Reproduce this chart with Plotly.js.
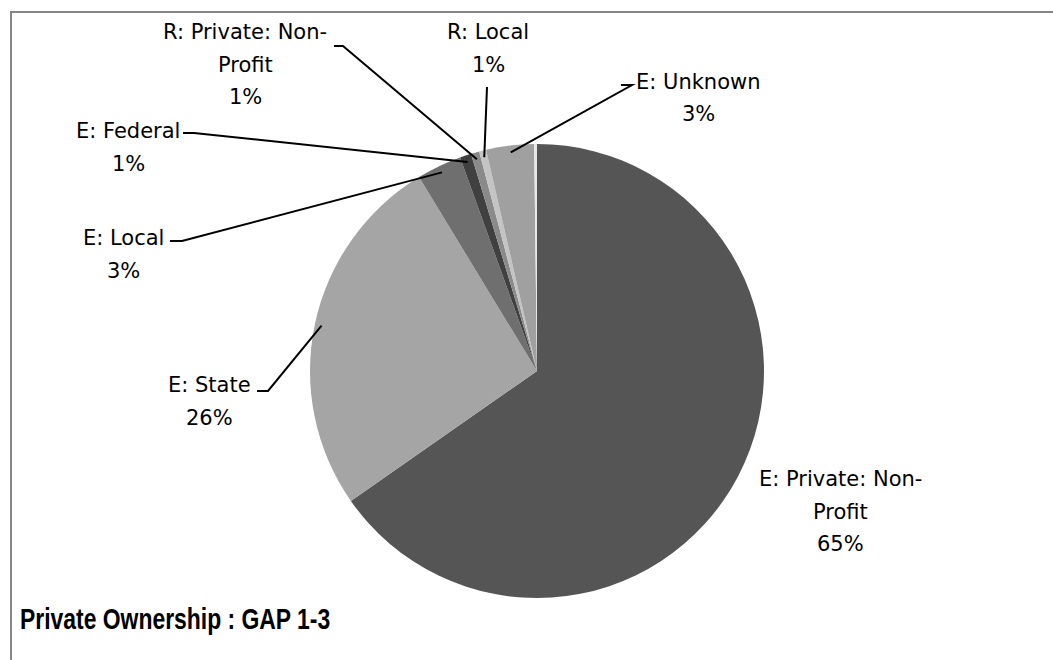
<!DOCTYPE html>
<html>
<head>
<meta charset="utf-8">
<script src="https://cdn.plot.ly/plotly-3.0.1.min.js"></script>
<style>html,body{margin:0;padding:0;background:#fff;}#chart{width:1053px;height:660px;}</style>
</head>
<body>
<div id="chart"></div>
<script>
// ---- data ----
const labels = ["E: Private: Non-Profit", "E: State", "E: Local", "E: Federal", "R: Private: Non-Profit", "R: Local", "E: Unknown", "Other"];
const values = [65.3, 26.0, 3.2, 0.8, 0.6, 0.5, 3.4, 0.2];
const colors = ["#555555", "#a5a5a5", "#6f6f6f", "#404040", "#8a8a8a", "#c4c4c4", "#a0a0a0", "#e8e8e8"];
const titleText = "Private Ownership : GAP 1-3";

// ---- layout constants (pixels) ----
const W = 1053, H = 660;
const CX = 537, CY = 371, R = 227;
const FONT = "'DejaVu Sans', sans-serif";
const FS = 21;
const LH = 32.5;
// label placement: lines, text centre, elbow (x1 -> x2 at y), then line to slice
const labelCfg = {
  0: {lines: ["E: Private: Non-", "Profit"], x: 840, y: 479, elbow: null},
  1: {lines: ["E: State"], x: 209, y: 385, elbow: [257, 268, 391]},
  2: {lines: ["E: Local"], x: 123, y: 238, elbow: [170, 182, 241]},
  3: {lines: ["E: Federal"], x: 128, y: 131, elbow: [183, 194, 133]},
  4: {lines: ["R: Private: Non-", "Profit"], x: 245, y: 32, elbow: [334, 343, 46]},
  5: {lines: ["R: Local"], x: 488, y: 32, elbow: [487, 487, 87]},
  6: {lines: ["E: Unknown"], x: 698, y: 82, elbow: [621, 632, 85]}
};

const px = x => x / W;
const py = y => 1 - y / H;

const total = values.reduce((a, b) => a + b, 0);
const annotations = [];
const shapes = [];

// chart-area border
shapes.push({type: "rect", xref: "paper", yref: "paper", x0: px(11), x1: px(1070), y0: py(12), y1: py(680),
  line: {color: "#868686", width: 2}, fillcolor: "rgba(0,0,0,0)"});

let cum = 0;
values.forEach((v, i) => {
  const mid = 2 * Math.PI * (cum + v / 2) / total;
  cum += v;
  const cfg = labelCfg[i];
  if (!cfg) return;
  const pct = Math.round(100 * v / total) + "%";
  const lines = cfg.lines.concat([pct]);
  lines.forEach((t, k) => {
    annotations.push({xref: "paper", yref: "paper", x: px(cfg.x), y: py(cfg.y + k * LH),
      xanchor: "center", yanchor: "middle", showarrow: false, text: t,
      font: {family: FONT, size: FS, color: "#000"}});
  });
  if (cfg.elbow) {
    const ax = CX + R * 0.97 * Math.sin(mid);
    const ay = CY - R * 0.97 * Math.cos(mid);
    const [x1, x2, y] = cfg.elbow;
    const path = `M ${px(x1)} ${py(y)} L ${px(x2)} ${py(y)} L ${px(ax)} ${py(ay)}`;
    shapes.push({type: "path", xref: "paper", yref: "paper", path: path, line: {color: "#000", width: 2}});
  }
});

annotations.push({xref: "paper", yref: "paper", x: px(18), y: py(619), xanchor: "left", yanchor: "middle",
  showarrow: false, text: "<b>" + titleText + "</b>", name: "charttitle",
  font: {family: "'Liberation Sans', Arial, sans-serif", size: 29, color: "#000"}});

const trace = {
  type: "pie", labels: labels, values: values, sort: false, direction: "clockwise", rotation: 0,
  marker: {colors: colors, line: {width: 0}}, textinfo: "none", hoverinfo: "label+percent",
  domain: {x: [px(CX - R), px(CX + R)], y: [py(CY + R), py(CY - R)]}, showlegend: false
};

Plotly.newPlot("chart", [trace], {
  width: W, height: H, margin: {l: 0, r: 0, t: 0, b: 0},
  paper_bgcolor: "#fff", plot_bgcolor: "#fff", showlegend: false,
  annotations: annotations, shapes: shapes
}, {staticPlot: true}).then(gd => {
  // condense the title horizontally (Calibri-like narrow bold)
  const texts = gd.querySelectorAll(".annotation-text");
  const t = texts[texts.length - 1];
  if (t) {
    t.style.transformBox = "fill-box";
    t.style.transformOrigin = "left center";
    t.style.transform = "scaleX(0.79)";
  }
});
</script>
</body>
</html>
